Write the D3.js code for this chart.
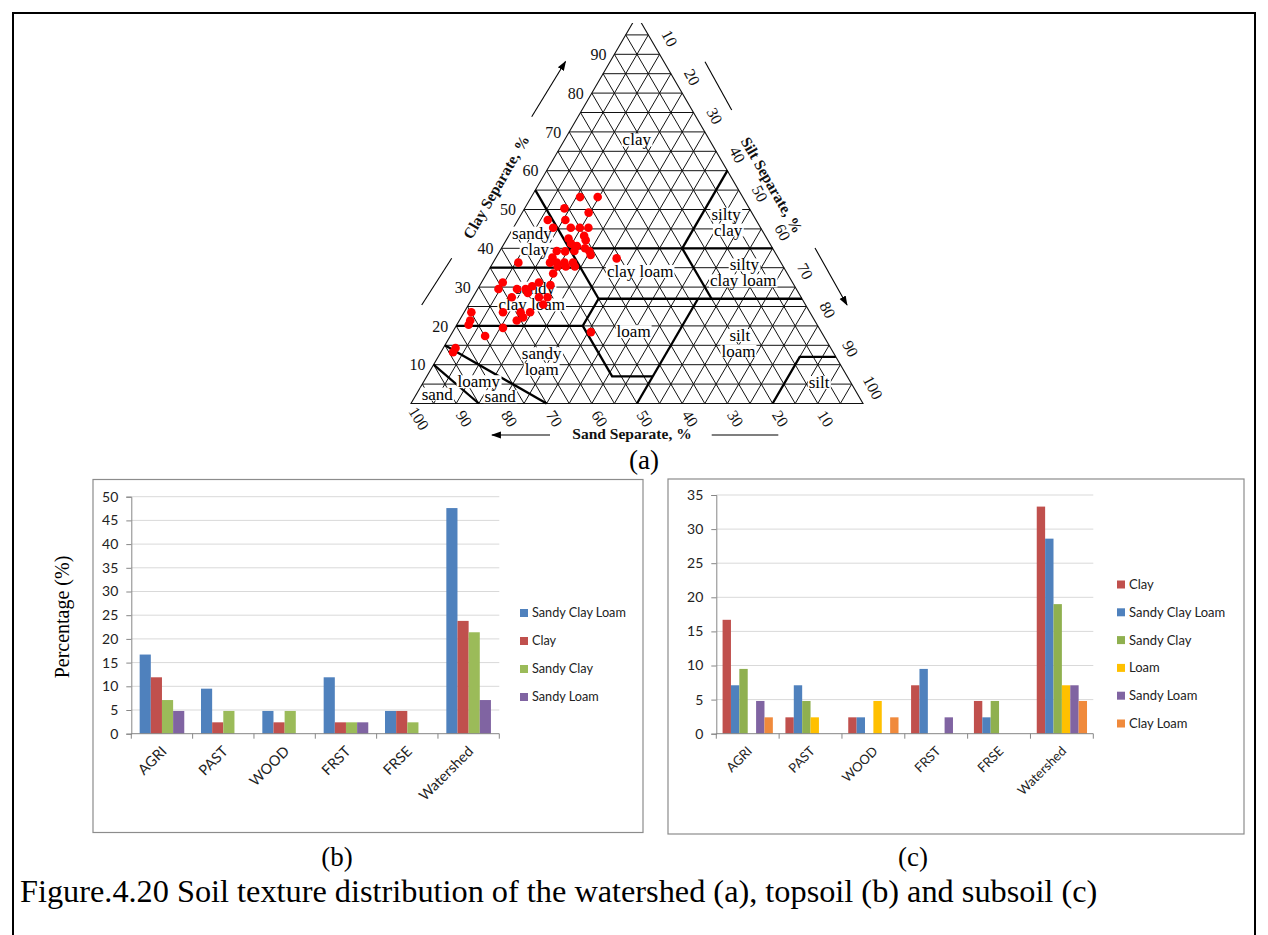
<!DOCTYPE html>
<html>
<head>
<meta charset="utf-8">
<script src="https://cdn.jsdelivr.net/npm/d3@7"></script>
<style>
  body { margin: 0; background: #fff; }
  svg { display: block; }
</style>
</head>
<body>
<script>
// ---- (a) soil samples (sand %, clay %) ----
const sandPct = [36.0, 32.1, 40.9, 36.1, 46.1, 42.2, 45.9, 42.0, 40.0, 38.1,
  40.1, 43.9, 40.3, 44.0, 43.0, 41.5, 40.9, 41.1, 48.1, 46.3, 44.2, 49.9,
  51.1, 49.6, 47.9, 46.0, 49.9, 48.1, 46.1, 35.8, 58.1, 51.8, 53.9, 64.1,
  65.9, 61.8, 59.9, 58.1, 56.1, 59.9, 64.0, 58.0, 56.1, 58.0, 74.9, 67.9,
  64.0, 61.9, 76.2, 77.1, 64.1, 65.9, 69.9, 51.0, 74.9, 83.0, 84.1];
const clayPct = [53.2, 53.2, 50.3, 49.2, 47.3, 47.3, 45.3, 45.3, 45.3, 45.3,
  43.2, 42.5, 42.1, 41.2, 40.6, 40.0, 39.3, 38.3, 39.3, 39.2, 39.3, 37.6,
  36.3, 36.3, 36.3, 36.3, 35.3, 35.3, 35.3, 37.4, 36.3, 33.5, 30.5, 31.2,
  29.5, 29.5, 29.5, 30.2, 31.2, 28.5, 27.4, 27.4, 27.4, 25.5, 23.5, 23.5,
  23.5, 23.5, 21.4, 20.3, 22.2, 21.4, 19.5, 18.4, 17.4, 14.3, 13.2];

const triTicks = [10, 20, 30, 40, 50, 60, 70, 80, 90];
const triTicksEdge = [10, 20, 30, 40, 50, 60, 70, 80, 90, 100];

// USDA class boundaries as [sand, clay] polylines
const classLines = [
  [[45, 55], [45, 27]],
  [[45, 40], [0, 40]],
  [[65, 35], [45, 35]],
  [[45, 27], [0, 27]],
  [[0, 60], [20, 40]],
  [[20, 40], [20, 27]],
  [[80, 20], [52, 20], [45, 27]],
  [[52, 20], [52, 7], [43, 7]],
  [[23, 27], [50, 0]],
  [[20, 0], [8, 12], [0, 12]],
  [[85, 15], [70, 0]],
  [[90, 10], [85, 0]]
];
// class names, each line with a [sand, clay] anchor
const classNames = [
  [['clay', 16.1, 67.9]],
  [['sandy', 51.3, 43.9], ['clay', 52.7, 39.8]],
  [['silty', 5.9, 48.8], ['clay', 7.5, 44.7]],
  [['clay loam', 32.3, 34.0]],
  [['silty', 8.4, 35.7], ['clay loam', 10.7, 31.6]],
  [['sandy', 57.7, 29.7], ['clay loam', 60.6, 25.4]],
  [['loam', 41.5, 18.5]],
  [['silt', 18.5, 17.5], ['loam', 20.8, 13.5]],
  [['sandy', 64.7, 12.8], ['loam', 66.7, 8.8]],
  [['loamy', 82.2, 5.6], ['sand', 79.4, 1.75]],
  [['sand', 93.0, 2.4]],
  [['silt', 7.0, 5.4]]
];

// ---- (b) topsoil and (c) subsoil, % of samples ----
const landUse = ['AGRI', 'PAST', 'WOOD', 'FRST', 'FRSE', 'Watershed'];

const topSandyClayLoam = [16.7, 9.5, 4.8, 11.9, 4.8, 47.6];
const topClay = [11.9, 2.4, 2.4, 2.4, 4.8, 23.8];
const topSandyClay = [7.1, 4.8, 4.8, 2.4, 2.4, 21.4];
const topSandyLoam = [4.8, 0, 0, 2.4, 0, 7.1];

const subClay = [16.7, 2.4, 2.4, 7.1, 4.8, 33.3];
const subSandyClayLoam = [7.1, 7.1, 2.4, 9.5, 2.4, 28.6];
const subSandyClay = [9.5, 4.8, 0, 0, 4.8, 19.0];
const subLoam = [0, 2.4, 4.8, 0, 0, 7.1];
const subSandyLoam = [4.8, 0, 0, 2.4, 0, 7.1];
const subClayLoam = [2.4, 0, 2.4, 0, 0, 4.8];

const topTicks = [0, 5, 10, 15, 20, 25, 30, 35, 40, 45, 50];
const subTicks = [0, 5, 10, 15, 20, 25, 30, 35];

const serif = '"Liberation Serif", "Times New Roman", serif';
const sans = 'Lato, "Open Sans", sans-serif';

const svg = d3.select('body').append('svg')
  .attr('width', 1268).attr('height', 935)
  .style('background', '#fff');

// outer figure frame
svg.append('rect')
  .attr('x', 13).attr('y', 13).attr('width', 1242).attr('height', 960)
  .attr('fill', 'none').attr('stroke', '#000').attr('stroke-width', 2);

// ================= (a) texture triangle =================
const tri = { left: 411, right: 863, base: 403.5, height: 388 };
const xT = d3.scaleLinear().domain([0, 100]).range([tri.left, tri.right]);
const yT = d3.scaleLinear().domain([0, 100]).range([tri.base, tri.base - tri.height]);
const pt = (sand, clay) => {
  const silt = 100 - sand - clay;
  return [xT(silt + clay / 2), yT(clay)];
};
const line = d3.line();

svg.append('clipPath').attr('id', 'triClip')
  .append('rect').attr('x', 0).attr('y', 23).attr('width', 1268).attr('height', 500);

const gT = svg.append('g').attr('clip-path', 'url(#triClip)');

// grid, every 5 %
const gridLines = [];
d3.range(5, 100, 5).forEach(k => {
  gridLines.push([pt(100 - k, k), pt(0, k)]);      // clay = k
  gridLines.push([pt(k, 0), pt(k, 100 - k)]);      // sand = k
  gridLines.push([pt(100 - k, 0), pt(0, 100 - k)]); // silt = k
});
gT.selectAll('.grid').data(gridLines).join('path')
  .attr('d', d => line(d))
  .attr('fill', 'none').attr('stroke', '#111').attr('stroke-width', 1);

gT.append('path')
  .attr('d', line([pt(100, 0), pt(0, 0), pt(0, 100)]) + 'Z')
  .attr('fill', 'none').attr('stroke', '#111').attr('stroke-width', 1.1);

gT.selectAll('.cls').data(classLines).join('path')
  .attr('d', d => line(d.map(p => pt(p[0], p[1]))))
  .attr('fill', 'none').attr('stroke', '#000').attr('stroke-width', 2.3);

// class labels on white patches (one text element per class)
const gNames = svg.append('g');
classNames.forEach(rows => {
  const txt = gNames.append('text')
    .attr('text-anchor', 'middle')
    .style('font-family', serif).style('font-size', '17px');
  rows.forEach(([t, s, c]) => {
    const [x, y] = pt(s, c);
    const ts = txt.append('tspan').attr('x', x).attr('y', y).attr('dy', '0.32em').text(t);
    const b = ts.node().getBBox();
    gNames.insert('rect', () => txt.node())
      .attr('x', b.x - 1).attr('y', b.y + 3).attr('width', b.width + 2).attr('height', b.height - 6)
      .attr('fill', '#fff');
  });
});

// sample points
svg.append('g').selectAll('circle').data(sandPct.map((s, i) => [s, clayPct[i]])).join('circle')
  .attr('cx', d => pt(d[0], d[1])[0])
  .attr('cy', d => pt(d[0], d[1])[1])
  .attr('r', 4.3)
  .attr('fill', '#ff0000');

// tick labels
const tickStyle = sel => sel.style('font-family', serif).style('font-size', '16px').attr('fill', '#111');
svg.append('g').selectAll('text').data(triTicks).join('text')
  .attr('x', v => pt(100 - v, v)[0] - 8)
  .attr('y', v => pt(100 - v, v)[1])
  .attr('dy', '0.35em').attr('text-anchor', 'end')
  .call(tickStyle).text(v => v);
svg.append('g').selectAll('text').data(triTicksEdge).join('text')
  .attr('transform', v => { const [x, y] = pt(0, 100 - v); return `translate(${x + 10},${y - 16}) rotate(62)`; })
  .attr('dy', '0.35em').attr('text-anchor', 'middle')
  .call(tickStyle).text(v => v);
svg.append('g').selectAll('text').data(triTicksEdge).join('text')
  .attr('transform', v => { const [x, y] = pt(v, 0); return `translate(${x + 8},${y + 15}) rotate(58)`; })
  .attr('dy', '0.35em').attr('text-anchor', 'middle')
  .call(tickStyle).text(v => v);

// axis titles with their arrows
const defs = svg.append('defs');
defs.append('marker').attr('id', 'arr')
  .attr('viewBox', '0 0 10 10').attr('refX', 9).attr('refY', 5)
  .attr('markerWidth', 9).attr('markerHeight', 9).attr('orient', 'auto')
  .append('path').attr('d', 'M0,1.5 L10,5 L0,8.5 Z').attr('fill', '#000');

const titleStyle = sel => sel.style('font-family', serif).style('font-size', '15.5px')
  .style('font-weight', 'bold').attr('text-anchor', 'middle').attr('fill', '#111');

svg.append('text').attr('transform', 'translate(496,187) rotate(-60)').attr('dy', '0.35em')
  .call(titleStyle).text('Clay Separate, %');
svg.append('text').attr('transform', 'translate(772,185) rotate(60)').attr('dy', '0.35em')
  .call(titleStyle).text('Silt Separate, %');
svg.append('text').attr('x', 632).attr('y', 434).attr('dy', '0.35em')
  .call(titleStyle).text('Sand Separate, %');

const deco = [
  { d: [[421.7, 305], [451.7, 258.3]], arrow: false },
  { d: [[531.7, 116.7], [565.5, 61.5]], arrow: true },
  { d: [[705, 61.7], [731.7, 110]], arrow: false },
  { d: [[815, 248], [847, 305]], arrow: true },
  { d: [[550, 435], [492, 435]], arrow: true },
  { d: [[711.7, 435], [778.3, 435]], arrow: false }
];
svg.append('g').selectAll('path').data(deco).join('path')
  .attr('d', d => line(d.d)).attr('stroke', '#000').attr('stroke-width', 1.1).attr('fill', 'none')
  .attr('marker-end', d => d.arrow ? 'url(#arr)' : null);

// ================= bar charts =================
function barChart(o) {
  const g = svg.append('g');
  g.append('rect').attr('x', o.frame[0]).attr('y', o.frame[1])
    .attr('width', o.frame[2]).attr('height', o.frame[3])
    .attr('fill', '#fff').attr('stroke', '#8c8c8c').attr('stroke-width', 1.2);

  const n = o.series.length;
  const p = 1.5 / (n + 1.5);
  const x0 = d3.scaleBand().domain(o.cats).range([o.left, o.right]).paddingInner(p).paddingOuter(p / 2);
  const x1 = d3.scaleBand().domain(o.series.map(s => s.name)).range([0, x0.bandwidth()]);
  const y = d3.scaleLinear().domain([0, o.max]).range([o.bottom, o.top]);

  g.append('g').selectAll('line').data(o.ticks.filter(t => t > 0)).join('line')
    .attr('x1', o.left).attr('x2', o.right)
    .attr('y1', d => y(d)).attr('y2', d => y(d))
    .attr('stroke', '#d9d9d9').attr('stroke-width', 1);

  const yAxis = g.append('g').attr('transform', `translate(${o.left},0)`)
    .call(d3.axisLeft(y).tickValues(o.ticks).tickSize(5).tickPadding(8));
  yAxis.select('.domain').attr('stroke', '#868686');
  yAxis.selectAll('.tick line').attr('stroke', '#868686');
  yAxis.selectAll('text').style('font-family', sans).style('font-size', '14px').attr('fill', '#222');

  o.series.forEach(s => {
    g.append('g').selectAll('rect').data(s.values).join('rect')
      .attr('x', (d, i) => x0(o.cats[i]) + x1(s.name))
      .attr('y', d => y(d))
      .attr('width', x1.bandwidth())
      .attr('height', d => y(0) - y(d))
      .attr('fill', s.color);
  });

  const step = x0.step();
  g.append('line').attr('x1', o.left).attr('x2', o.right)
    .attr('y1', y(0)).attr('y2', y(0)).attr('stroke', '#868686');
  g.append('g').selectAll('line').data(d3.range(o.cats.length + 1)).join('line')
    .attr('x1', i => o.left + i * step).attr('x2', i => o.left + i * step)
    .attr('y1', y(0)).attr('y2', y(0) + 5).attr('stroke', '#868686');

  g.append('g').selectAll('text').data(o.cats).join('text')
    .attr('transform', c => `translate(${x0(c) + x0.bandwidth() / 2 + 2},${y(0) + 15}) rotate(-45)`)
    .attr('text-anchor', 'end').attr('dy', '0.35em')
    .style('font-family', sans).style('font-size', o.catFont).attr('fill', '#222')
    .text(c => c);

  const lg = g.append('g').selectAll('g').data(o.series).join('g')
    .attr('transform', (s, i) => `translate(${o.legX},${o.legY + i * o.legGap})`);
  lg.append('rect').attr('x', 0).attr('y', -4).attr('width', 8).attr('height', 8).attr('fill', s => s.color);
  lg.append('text').attr('x', 12).attr('dy', '0.35em')
    .style('font-family', sans).style('font-size', o.legFont).attr('fill', '#222')
    .text(s => s.name);
}

const blue = '#4f81bd', red = '#c0504d', green = '#9bbb59', purple = '#8064a2',
  yellow = '#ffc000', orange = '#f08a3c';

barChart({
  frame: [93, 479.5, 550, 353], left: 131.3, right: 499.3, top: 496.7, bottom: 733.7,
  max: 50, ticks: topTicks, cats: landUse, catFont: '14.5px', legFont: '12.7px',
  series: [
    { name: 'Sandy Clay Loam', values: topSandyClayLoam, color: blue },
    { name: 'Clay', values: topClay, color: red },
    { name: 'Sandy Clay', values: topSandyClay, color: green },
    { name: 'Sandy Loam', values: topSandyLoam, color: purple }
  ],
  legX: 520, legY: 613, legGap: 28
});

barChart({
  frame: [668, 479, 576, 355], left: 716.3, right: 1093.3, top: 495, bottom: 733.7,
  max: 35, ticks: subTicks, cats: landUse, catFont: '13px', legFont: '13px',
  series: [
    { name: 'Clay', values: subClay, color: red },
    { name: 'Sandy Clay Loam', values: subSandyClayLoam, color: blue },
    { name: 'Sandy Clay', values: subSandyClay, color: '#8fb04f' },
    { name: 'Loam', values: subLoam, color: yellow },
    { name: 'Sandy Loam', values: subSandyLoam, color: purple },
    { name: 'Clay Loam', values: subClayLoam, color: orange }
  ],
  legX: 1117, legY: 584.5, legGap: 27.8
});

svg.append('text').attr('transform', 'translate(62,617) rotate(-90)')
  .attr('text-anchor', 'middle').attr('dy', '0.35em')
  .style('font-family', serif).style('font-size', '20px').text('Percentage (%)');

// panel letters and caption
const letter = sel => sel.style('font-family', serif).style('font-size', '27px').attr('text-anchor', 'middle');
svg.append('text').attr('x', 644).attr('y', 469).call(letter).text('(a)');
svg.append('text').attr('x', 337).attr('y', 866).call(letter).text('(b)');
svg.append('text').attr('x', 913).attr('y', 866).call(letter).text('(c)');

svg.append('text').attr('x', 20).attr('y', 902)
  .style('font-family', serif).style('font-size', '32.3px')
  .text('Figure.4.20 Soil texture distribution of the watershed (a), topsoil (b) and subsoil (c)');
</script>
</body>
</html>
